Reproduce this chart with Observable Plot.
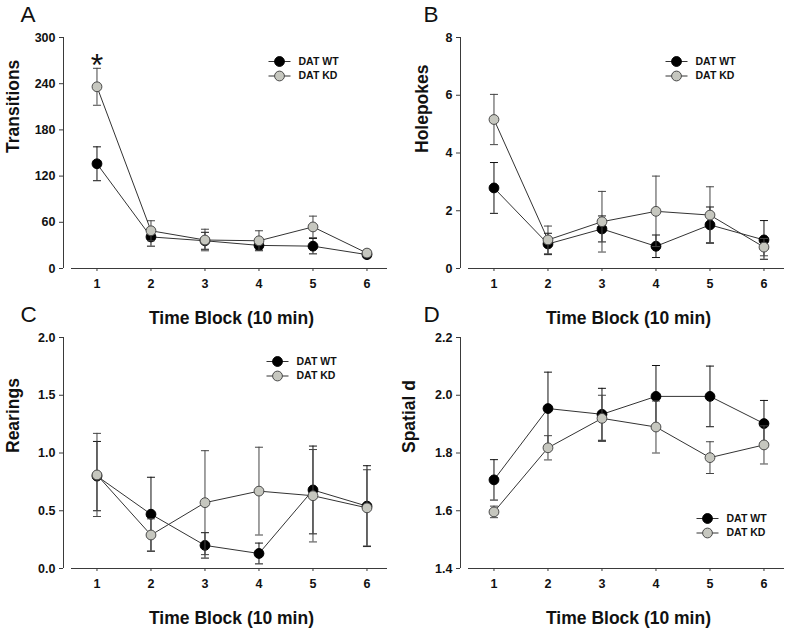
<!DOCTYPE html>
<html>
<head>
<meta charset="utf-8">
<script src="https://cdn.jsdelivr.net/npm/d3@7"></script>
<script src="https://cdn.jsdelivr.net/npm/@observablehq/plot@0.6"></script>
<style>
  html, body { margin: 0; padding: 0; background: #ffffff; }
  #chart { position: relative; width: 795px; height: 631px; overflow: hidden; background: #ffffff; }
  #chart svg { position: absolute; }
</style>
</head>
<body>
<div id="chart"></div>
<script>
// ---------- data ----------
const blocks = [1, 2, 3, 4, 5, 6];
const seriesNames = ["DAT WT", "DAT KD"];
const xTitle = "Time Block (10 min)";

// A: Transitions
const transitionsWT    = [136, 41, 36, 30, 29, 18];
const transitionsWTErr = [22, 12, 11, 6, 10, 4];
const transitionsKD    = [236, 49, 37, 36, 54, 20];
const transitionsKDErr = [24, 13, 14, 13, 14, 4];
const transitionsTicks = [0, 60, 120, 180, 240, 300];
const significance     = [{block: 1, label: "*"}];

// B: Holepokes
const holepokesWT    = [2.79, 0.85, 1.37, 0.77, 1.51, 0.99];
const holepokesWTErr = [0.88, 0.37, 0.45, 0.39, 0.62, 0.67];
const holepokesKD    = [5.16, 0.99, 1.62, 1.98, 1.85, 0.74];
const holepokesKDErr = [0.87, 0.48, 1.05, 1.22, 0.98, 0.30];
const holepokesTicks = [0, 2, 4, 6, 8];

// C: Rearings
const rearingsWT    = [0.80, 0.47, 0.20, 0.13, 0.68, 0.54];
const rearingsWTErr = [0.30, 0.32, 0.11, 0.09, 0.38, 0.35];
const rearingsKD    = [0.81, 0.29, 0.57, 0.67, 0.63, 0.525];
const rearingsKDErr = [0.36, 0.14, 0.45, 0.38, 0.40, 0.33];
const rearingsTicks = [0, 0.5, 1.0, 1.5, 2.0];

// D: Spatial d
const spatialWT    = [1.707, 1.954, 1.934, 1.996, 1.996, 1.902];
const spatialWTErr = [0.07, 0.126, 0.09, 0.107, 0.105, 0.08];
const spatialKD    = [1.596, 1.818, 1.92, 1.89, 1.784, 1.828];
const spatialKDErr = [0.02, 0.042, 0.08, 0.09, 0.055, 0.066];
const spatialTicks = [1.4, 1.6, 1.8, 2.0, 2.2];

// ---------- styles ----------
const font = '"Liberation Sans", Arial, Helvetica, sans-serif';
const axisColor = "#3a3a3a";
const wtStyle = {fill: "#000000", stroke: "#000000", err: "#111111"};
const kdStyle = {fill: "#c6c7bf", stroke: "#4a4a4a", err: "#444444"};
const cap = {draw(ctx) { ctx.moveTo(-4, 0); ctx.lineTo(4, 0); }};
const legendLine = {draw(ctx) { ctx.moveTo(-11, 0); ctx.lineTo(11, 0); }};
const dotR = 4.9;

function toRows(vals, errs) {
  return blocks.map((b, i) => ({x: b, y: vals[i], lo: vals[i] - errs[i], hi: vals[i] + errs[i]}));
}

function seriesMarks(data, st) {
  return [
    Plot.ruleX(data, {x: "x", y1: "lo", y2: "hi", stroke: st.err, strokeWidth: 1}),
    Plot.dot(data, {x: "x", y: "hi", symbol: cap, stroke: st.err, fill: "none", strokeWidth: 1}),
    Plot.dot(data, {x: "x", y: "lo", symbol: cap, stroke: st.err, fill: "none", strokeWidth: 1}),
    Plot.line(data, {x: "x", y: "y", stroke: "#333333", strokeWidth: 1}),
    Plot.dot(data, {x: "x", y: "y", r: dotR, fill: st.fill, stroke: st.stroke, strokeWidth: 1})
  ];
}

function legendMarks(dx0, dy0) {
  return seriesNames.flatMap((name, i) => {
    const st = i === 0 ? wtStyle : kdStyle;
    const dy = dy0 + i * 14.5;
    return [
      Plot.dot([name], {frameAnchor: "top-left", dx: dx0, dy, symbol: legendLine, stroke: "#333333", fill: "none", strokeWidth: 1}),
      Plot.dot([name], {frameAnchor: "top-left", dx: dx0, dy, r: dotR, fill: st.fill, stroke: st.stroke, strokeWidth: 1}),
      Plot.text([name], {frameAnchor: "top-left", dx: dx0 + 19, dy, text: d => d, textAnchor: "start", lineAnchor: "middle", fontSize: 10.5, fontWeight: "bold", fill: "#111"})
    ];
  });
}

function makePanel(cfg) {
  const {letter, yLabel, wt, wtErr, kd, kdErr, yTicks, fmt, titleDx, letterDx, legendDx, legendDy, extra = []} = cfg;
  const yDomain = [yTicks[0], yTicks[yTicks.length - 1]];
  const xDomain = [0.38, 6.38];
  const wtRows = toRows(wt, wtErr);
  const kdRows = toRows(kd, kdErr);
  return Plot.plot({
    width: 397,
    height: 331,
    marginLeft: 63,
    marginRight: 10,
    marginTop: 37,
    marginBottom: 63,
    style: {background: "transparent", overflow: "visible", fontFamily: font, color: "#111"},
    x: {domain: xDomain},
    y: {domain: yDomain},
    marks: [
      Plot.ruleX([xDomain[0]], {stroke: axisColor, strokeWidth: 1}),
      Plot.ruleY([yDomain[0]], {stroke: axisColor, strokeWidth: 1, insetLeft: 8}),
      Plot.axisY({ticks: yTicks, tickFormat: fmt, tickSize: 4, tickPadding: 4, fontSize: 12.5, fontWeight: "bold", label: null, stroke: axisColor}),
      Plot.axisX({ticks: blocks, tickFormat: d => String(d), tickSize: 3, tickPadding: 8, fontSize: 12.5, fontWeight: "bold", label: null, stroke: axisColor}),
      ...seriesMarks(wtRows, wtStyle),
      ...seriesMarks(kdRows, kdStyle),
      ...legendMarks(legendDx, legendDy),
      ...extra,
      Plot.text([yLabel], {frameAnchor: "left", dx: titleDx, rotate: -90, text: d => d, fontSize: 17.5, fontWeight: "bold", lineAnchor: "middle", fill: "#111"}),
      Plot.text([xTitle], {frameAnchor: "bottom", dx: 6, dy: 50, text: d => d, fontSize: 17.5, fontWeight: "bold", lineAnchor: "middle", fill: "#111"}),
      Plot.text([letter], {frameAnchor: "top-left", dx: letterDx, dy: -23, text: d => d, fontSize: 22.5, fontWeight: "normal", textAnchor: "start", lineAnchor: "middle", fill: "#111"})
    ]
  });
}

const fmt0 = d => d3.format("d")(d);
const fmt1 = d => d3.format(".1f")(d);

const panels = [
  {
    left: 0, top: 0,
    cfg: {letter: "A", yLabel: "Transitions", wt: transitionsWT, wtErr: transitionsWTErr, kd: transitionsKD, kdErr: transitionsKDErr,
      yTicks: transitionsTicks, fmt: fmt0, titleDx: -50, letterDx: -43, legendDx: 216, legendDy: 24,
      extra: [Plot.text(significance, {x: "block", y: d => transitionsKD[d.block - 1] + transitionsKDErr[d.block - 1], text: "label", dy: -3, fontSize: 32, lineAnchor: "middle", fill: "#111"})]}
  },
  {
    left: 397, top: 0,
    cfg: {letter: "B", yLabel: "Holepokes", wt: holepokesWT, wtErr: holepokesWTErr, kd: holepokesKD, kdErr: holepokesKDErr,
      yTicks: holepokesTicks, fmt: fmt0, titleDx: -38.5, letterDx: -37, legendDx: 216, legendDy: 24}
  },
  {
    left: 0, top: 300,
    cfg: {letter: "C", yLabel: "Rearings", wt: rearingsWT, wtErr: rearingsWTErr, kd: rearingsKD, kdErr: rearingsKDErr,
      yTicks: rearingsTicks, fmt: fmt1, titleDx: -50, letterDx: -43, legendDx: 214, legendDy: 24}
  },
  {
    left: 397, top: 300,
    cfg: {letter: "D", yLabel: "Spatial d", wt: spatialWT, wtErr: spatialWTErr, kd: spatialKD, kdErr: spatialKDErr,
      yTicks: spatialTicks, fmt: fmt1, titleDx: -51.5, letterDx: -37, legendDx: 247, legendDy: 181}
  }
];

const chart = document.getElementById("chart");
for (const p of panels) {
  const svg = makePanel(p.cfg);
  svg.style.left = p.left + "px";
  svg.style.top = p.top + "px";
  chart.appendChild(svg);
}
</script>
</body>
</html>
